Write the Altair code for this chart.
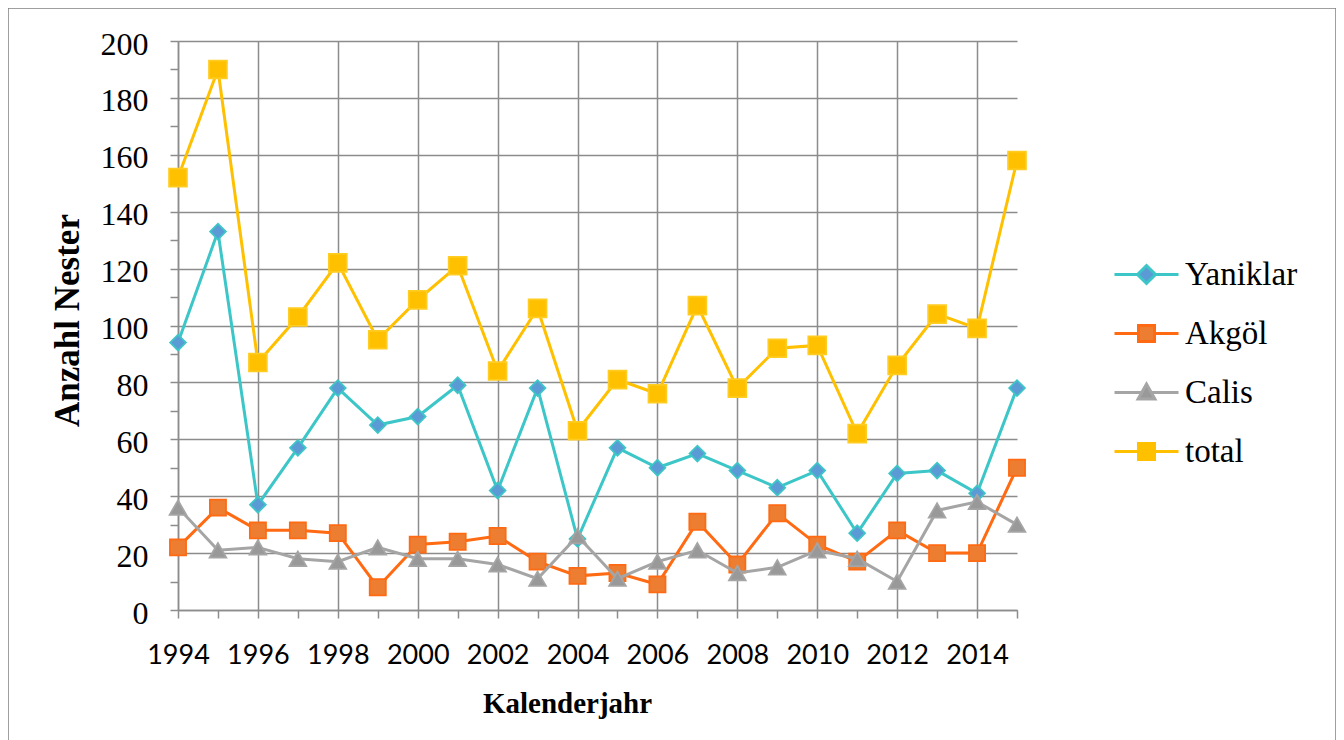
import altair as alt
import pandas as pd

# ---- data ----
years = list(range(1994, 2016))
yaniklar = [94, 133, 37, 57, 78, 65, 68, 79, 42, 78, 25, 57, 50, 55, 49, 43, 49, 27, 48, 49, 41, 78]
akgol = [22, 36, 28, 28, 27, 8, 23, 24, 26, 17, 12, 13, 9, 31, 16, 34, 23, 17, 28, 20, 20, 50]
calis = [36, 21, 22, 18, 17, 22, 18, 18, 16, 11, 26, 11, 17, 21, 13, 15, 21, 18, 10, 35, 38, 30]
total = [152, 190, 87, 103, 122, 95, 109, 121, 84, 106, 63, 81, 76, 107, 78, 92, 93, 62, 86, 104, 99, 158]

names = ["Yaniklar", "Akgöl", "Calis", "total"]
series_values = [yaniklar, akgol, calis, total]

y_ticks = list(range(0, 201, 10))

# ---- styles ----
line_colors = ["#3DC6C8", "#FF6A12", "#A5A5A5", "#FFC000"]
marker_fills = ["#5B9BD5", "#ED7D31", "#999999", "#FFC000"]
marker_strokes = ["#3DC6C8", "#FF6A12", "#A5A5A5", "#FFCC22"]
marker_shapes = ["diamond", "square", "triangle-up", "square"]
marker_sizes = [250, 260, 280, 320]
legend_paths = [
    "M-1.6,0L-0.45,0M0.45,0L1.6,0M-0.45,0L0,-0.45L0.45,0L0,0.45Z",
    "M-1.6,0L-0.4,0M0.4,0L1.6,0M-0.4,-0.4L0.4,-0.4L0.4,0.4L-0.4,0.4Z",
    "M-1.6,0L-0.24,0M0.24,0L1.6,0M-0.42,0.32L0,-0.42L0.42,0.32Z",
    "M-1.6,0L-0.4,0M0.4,0L1.6,0M-0.4,-0.4L0.4,-0.4L0.4,0.4L-0.4,0.4Z",
]
GRID = "#8C8C8C"

rows = []
for name, vals in zip(names, series_values):
    for yr, v in zip(years, vals):
        rows.append({"year": yr, "value": v, "series": name})
df = pd.DataFrame(rows)

x_axis = alt.Axis(
    values=years, format="d",
    labelExpr="datum.value % 2 == 0 ? datum.label : ''",
    labelFont="Lato", labelFontSize=27, labelColor="black",
    labelBaseline="alphabetic", labelPadding=45, labelFlush=False,
    labelOverlap=False, labelBound=False,
    tickSize=8, tickColor=GRID, tickWidth=1.5,
    domainColor=GRID, domainWidth=1.5,
    grid=True, gridColor=GRID, gridWidth=1.5,
    gridOpacity={"condition": {"test": "datum.value % 2 == 0", "value": 1}, "value": 0},
    title="Kalenderjahr", titleFont="Liberation Serif", titleFontSize=29,
    titleFontWeight="bold", titleColor="black",
    titleX=389, titleY=102, titleBaseline="alphabetic", titleAlign="center",
)
y_axis = alt.Axis(
    values=y_ticks,
    labelExpr="datum.value % 20 == 0 ? datum.label : ''",
    labelFont="Liberation Serif", labelFontSize=32, labelColor="black",
    labelBaseline="alphabetic", labelOffset=13, labelPadding=22,
    labelFlush=False, labelOverlap=False, labelBound=False,
    tickSize=8, tickColor=GRID, tickWidth=1.5,
    domainColor=GRID, domainWidth=1.5,
    grid=True, gridColor=GRID, gridWidth=1.5,
    gridOpacity={"condition": {"test": "datum.value % 20 == 0", "value": 1}, "value": 0},
    title="Anzahl Nester", titleFont="Liberation Serif", titleFontSize=35,
    titleFontWeight="bold", titleColor="black", titleAngle=270,
    titleX=-100, titleY=279, titleBaseline="alphabetic", titleAlign="center",
)

X = alt.X("year:Q", scale=alt.Scale(domain=[1994, 2015], nice=False, zero=False), axis=x_axis)
Y = alt.Y("value:Q", scale=alt.Scale(domain=[0, 200], nice=False), axis=y_axis)

frame = alt.Chart(pd.DataFrame({"a": [0]})).mark_rect(
    fillOpacity=0, stroke="#808080", strokeWidth=1.5
).encode(x=alt.value(-170), x2=alt.value(1158), y=alt.value(-33), y2=alt.value(780))

layers = [frame]
for i, name in enumerate(names):
    sub = alt.Chart(df).transform_filter(alt.datum.series == name)
    layers.append(sub.mark_line(color=line_colors[i], strokeWidth=3).encode(x=X, y=Y))
    layers.append(
        sub.mark_point(
            shape=marker_shapes[i], filled=True, fill=marker_fills[i],
            stroke=marker_strokes[i], strokeWidth=1.75, size=marker_sizes[i], opacity=1,
        ).encode(x=X, y=Y)
    )

legend = alt.Legend(
    title=None, orient="none", legendX=947, legendY=212,
    symbolSize=1600, symbolStrokeWidth=3, symbolOpacity=1,
    labelFont="Liberation Serif", labelFontSize=33, labelColor="black",
    labelOffset=17, rowPadding=20, padding=0, labelLimit=300,
)
legend_layer = alt.Chart(df).transform_filter("false").mark_point(
    filled=True, opacity=1, strokeWidth=3
).encode(
    x=X, y=Y,
    shape=alt.Shape("series:N", scale=alt.Scale(domain=names, range=legend_paths), legend=legend),
    fill=alt.Fill("series:N", scale=alt.Scale(domain=names, range=marker_fills), legend=legend),
    stroke=alt.Stroke("series:N", scale=alt.Scale(domain=names, range=line_colors), legend=legend),
)
layers.append(legend_layer)

chart = alt.layer(*layers).properties(
    width=839, height=569,
    autosize=alt.AutoSizeParams(type="none"),
    padding={"left": 170, "top": 33, "right": 319, "bottom": 140},
    background="white",
).configure_view(stroke="transparent")

chart.save("out.html", embed_options={"renderer": "svg", "actions": False})
